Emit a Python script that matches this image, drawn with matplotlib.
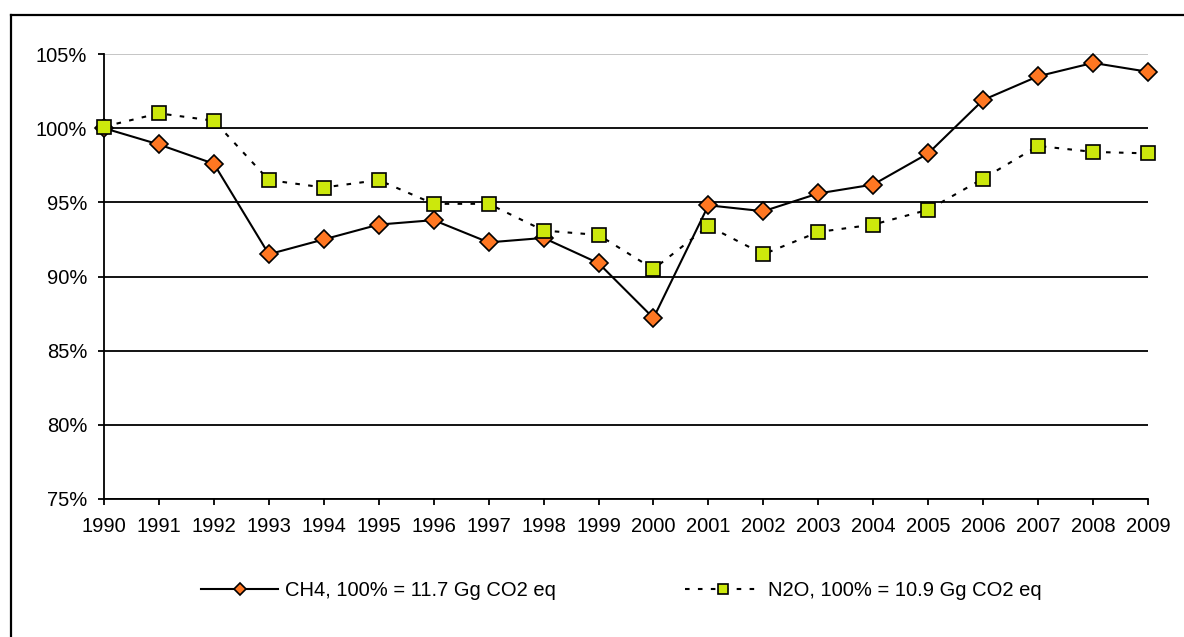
import matplotlib
matplotlib.use("Agg")
import matplotlib.pyplot as plt
from matplotlib.lines import Line2D
from matplotlib.ticker import FuncFormatter

plt.rcParams['font.family'] = ['Liberation Sans', 'DejaVu Sans']
plt.rcParams['font.size'] = 14.5

# data (index, 1990 = 100%)
anos = list(range(1990, 2010))
ch4 = [1.000, 0.989, 0.976, 0.915, 0.925, 0.935, 0.938, 0.923, 0.926, 0.909,
       0.872, 0.948, 0.944, 0.956, 0.962, 0.983, 1.019, 1.035, 1.044, 1.038]
n2o = [1.001, 1.010, 1.005, 0.965, 0.960, 0.965, 0.949, 0.949, 0.931, 0.928,
       0.905, 0.934, 0.915, 0.930, 0.935, 0.945, 0.966, 0.988, 0.984, 0.983]
rotulos = ["CH4, 100% = 11.7 Gg CO2 eq", "N2O, 100% = 10.9 Gg CO2 eq"]
y_ticks = [0.75, 0.80, 0.85, 0.90, 0.95, 1.00, 1.05]

laranja = "#ff7722"
lima = "#cce80c"

fig = plt.figure(figsize=(11.84, 6.37), dpi=100)
ax = fig.add_axes([104 / 1184, 1 - 499 / 637, 1044 / 1184, 445 / 637])

ax.plot(anos, ch4, color="black", lw=1.5, marker="D", ms=9.5,
        mfc=laranja, mec="black", mew=1.2, label=rotulos[0], zorder=3, clip_on=False)
ax.plot(anos, n2o, color="black", lw=1.5, ls=(0, (2.2, 4)), marker="s", ms=10.5,
        mfc=lima, mec="black", mew=1.2, label=rotulos[1], zorder=4, clip_on=False)

ax.set_xlim(1990, 2009)
ax.set_ylim(0.75, 1.05)
ax.set_xticks(anos)
ax.set_yticks(y_ticks)
ax.yaxis.set_major_formatter(FuncFormatter(lambda v, p: f"{v * 100:.0f}%"))

ax.grid(axis="y", color="black", lw=1.3)
ax.yaxis.get_gridlines()[-1].set_color("#c0c0c0")
ax.set_axisbelow(True)

for s in ["top", "right"]:
    ax.spines[s].set_visible(False)
for s in ["left", "bottom"]:
    ax.spines[s].set_linewidth(1.3)
ax.tick_params(axis="y", direction="out", length=4, width=1.3, pad=8)
ax.tick_params(axis="x", direction="out", length=4, width=1.3, pad=9)

fig.legend(loc="center", bbox_to_anchor=(0.525, 1 - 591 / 637), ncol=2,
           frameon=False, handlelength=3.8, handletextpad=0.35,
           columnspacing=6.4, markerscale=0.65)

# moldura
x0 = 11 / 1184
y0 = 1 - 15 / 637
fig.add_artist(Line2D([x0, x0], [-0.01, y0], color="black", lw=1.6))
fig.add_artist(Line2D([x0, 1.01], [y0, y0], color="black", lw=1.6))

fig.savefig("out.png", dpi=100)
